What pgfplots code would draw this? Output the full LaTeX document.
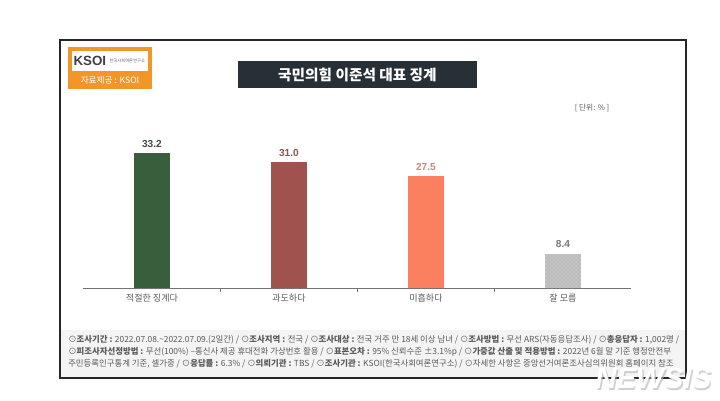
\documentclass[border=0pt]{standalone}
\usepackage{fontspec}
\setmainfont{Liberation Sans}
\newfontfamily\cjk{Noto Sans CJK KR}
\usepackage{pgfplots}
\pgfplotsset{compat=1.18}
\usetikzlibrary{patterns}
\definecolor{bargreen}{RGB}{56,94,60}
\definecolor{barred}{RGB}{160,82,79}
\definecolor{barorange}{RGB}{250,128,96}
\definecolor{bargray}{RGB}{195,195,195}
\definecolor{lblgreen}{RGB}{62,80,66}
\definecolor{lblred}{RGB}{140,84,84}
\definecolor{lblorange}{RGB}{205,135,125}
\definecolor{lblgray}{RGB}{120,120,120}
\definecolor{txtgray}{RGB}{90,90,90}
\definecolor{logoorange}{RGB}{243,150,40}
\definecolor{titlebg}{RGB}{38,48,54}
\begin{document}
\begin{tikzpicture}
\useasboundingbox[fill=white] (0,0) rectangle (540pt,300pt);
% footnote band
\fill[gray!9] (45.75pt,17.5pt) rectangle (513.75pt,52.5pt);
% frame
\draw[black!85, line width=1.1pt] (45pt,16.5pt) rectangle (514.5pt,270pt);
% logo
\fill[logoorange] (51pt,233.25pt) rectangle (114pt,264.75pt);
\fill[white] (54pt,247pt) rectangle (111pt,262pt);
\node[anchor=west, inner sep=0pt, text=black!75, font=\bfseries\fontsize{10}{10}\selectfont] at (55pt,254.5pt) {KSOI};
\node[anchor=west, inner sep=0pt, text=black!60, font=\cjk\fontsize{3.2}{4}\selectfont] at (82pt,254pt) {한국사회여론연구소};
\node[inner sep=0pt, text=white, font=\cjk\fontsize{6.5}{7}\selectfont] at (82.5pt,240pt) {자료제공 : KSOI};
% title
\fill[titlebg] (178.5pt,234pt) rectangle (357.75pt,254.25pt);
\node[inner sep=0pt, text=white, font=\cjk\bfseries\fontsize{11}{12}\selectfont] at (268.1pt,244.1pt) {국민의힘 이준석 대표 징계};
% unit
\node[inner sep=0pt, text=txtgray, font=\cjk\fontsize{5.8}{7}\selectfont] at (444pt,219pt) {[ 단위: \% ]};
% footnotes
\begin{scope}[every node/.style={anchor=west, inner sep=0pt, text=txtgray, font=\cjk\fontsize{6.3}{7}\selectfont}]
\node at (51pt,45pt) {⊙\textbf{조사기간 :} 2022.07.08.\textasciitilde2022.07.09.(2일간) / ⊙\textbf{조사지역 :} 전국 / ⊙\textbf{조사대상 :} 전국 거주 만 18세 이상 남녀 / ⊙\textbf{조사방법 :} 무선 ARS(자동응답조사) / ⊙\textbf{총응답자 :} 1,002명 /};
\node at (51pt,36pt) {⊙\textbf{피조사자선정방법 :} 무선(100\%) –통신사 제공 휴대전화 가상번호 활용 / ⊙\textbf{표본오차 :} 95\% 신뢰수준 ±3.1\%p / ⊙\textbf{가중값 산출 및 적용방법 :} 2022년 6월 말 기준 행정안전부};
\node at (51pt,27.4pt) {주민등록인구통계 기준, 셀가중 / ⊙\textbf{응답률 :} 6.3\% / ⊙\textbf{의뢰기관 :} TBS / ⊙\textbf{조사기관 :} KSOI(한국사회여론연구소) / ⊙자세한 사항은 중앙선거여론조사심의위원회 홈페이지 참조};
\end{scope}
\begin{axis}[
  at={(62.6pt,83.8pt)}, anchor=south west,
  scale only axis, width=411pt, height=122pt,
  xmin=-0.5, xmax=3.5, ymin=0, ymax=40,
  axis x line=bottom, axis y line=none,
  x axis line style={draw=black!55, line width=0.6pt, -},
  xtick={0,1,2,3},
  xticklabels={적절한 징계다, 과도하다, 미흡하다, 잘 모름},
  major tick length=0pt,
  minor xtick={0.5,1.5,2.5}, minor tick length=2.5pt,
  tick align=center,
  minor tick style={draw=black!55, line width=0.5pt},
  x tick label style={font=\cjk\fontsize{6.8}{8}\selectfont, text=txtgray, yshift=-1pt},
  ybar, bar width=27pt,
  clip=false,
  nodes near coords={\pgfmathprintnumber[fixed,fixed zerofill,precision=1,assume math mode=true]{\pgfplotspointmeta}},
  nodes near coords style={font=\bfseries\fontsize{7.6}{9}\selectfont, yshift=1pt},
]
\addplot[bar shift=0pt, fill=bargreen, draw=none, nodes near coords style={text=lblgreen}] coordinates {(0,33.2)};
\addplot[bar shift=0pt, fill=barred, draw=none, nodes near coords style={text=lblred}] coordinates {(1,31.0)};
\addplot[bar shift=0pt, fill=barorange, draw=none, nodes near coords style={text=lblorange}] coordinates {(2,27.5)};
\addplot[bar shift=0pt, fill=bargray, draw=none, postaction={pattern=crosshatch dots, pattern color=gray!70}, nodes near coords style={text=lblgray}] coordinates {(3,8.4)};
\end{axis}
% watermark
\node[text=black!30, opacity=0.6, font=\bfseries\itshape\fontsize{22}{22}\selectfont, inner sep=0pt] at (491pt,15pt) {NEWSIS};
\node[text=white, font=\bfseries\itshape\fontsize{22}{22}\selectfont, inner sep=0pt] at (490pt,16pt) {NEWSIS};
\end{tikzpicture}
\end{document}
